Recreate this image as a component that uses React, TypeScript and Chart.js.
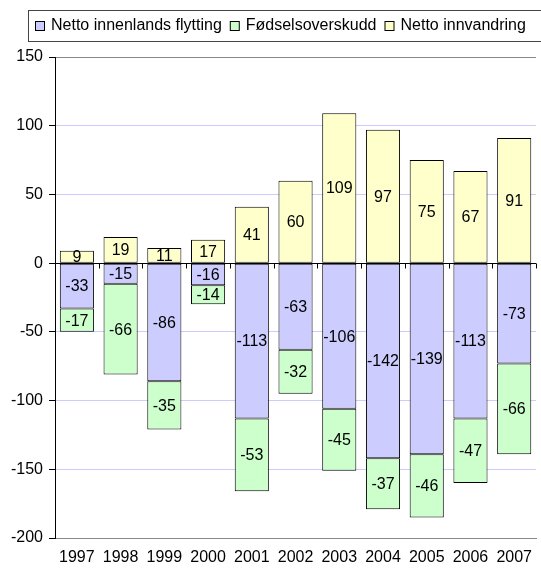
import { useEffect, useRef } from "react";
import { Chart, registerables } from "chart.js";
Chart.register(...registerables);

const years = ["1997", "1998", "1999", "2000", "2001", "2002", "2003", "2004", "2005", "2006", "2007"];
const nettoInnenlands = [-33, -15, -86, -16, -113, -63, -106, -142, -139, -113, -73];
const fodselsoverskudd = [-17, -66, -35, -14, -53, -32, -45, -37, -46, -47, -66];
const nettoInnvandring = [9, 19, 11, 17, 41, 60, 109, 97, 75, 67, 91];
const seriesNames = ["Netto innenlands flytting", "Fødselsoverskudd", "Netto innvandring"];
const seriesColors = ["#ccccff", "#ccffcc", "#ffffcc"];
const yMin = -200;
const yMax = 150;
const yStep = 50;

const FONT = '"Liberation Sans", Arial, sans-serif';

const overlay = {
  id: "overlay",
  afterDatasetsDraw(chart: any) {
    const ctx = chart.ctx;
    const y = chart.scales.y;
    const area = chart.chartArea;
    ctx.save();
    const y0 = Math.round(y.getPixelForValue(0)) + 0.5;
    ctx.strokeStyle = "#000";
    ctx.lineWidth = 1;
    ctx.beginPath();
    ctx.moveTo(area.left, y0);
    ctx.lineTo(area.right, y0);
    const n = years.length;
    const w = (area.right - area.left) / n;
    for (let i = 1; i <= n; i++) {
      const xx = Math.round(area.left + i * w) + 0.5;
      ctx.moveTo(xx, y0);
      ctx.lineTo(xx, y0 + 5);
    }
    ctx.stroke();

    ctx.font = "16px " + FONT;
    ctx.fillStyle = "#000";
    ctx.textAlign = "center";
    ctx.textBaseline = "middle";
    chart.data.datasets.forEach((ds: any, di: number) => {
      const meta = chart.getDatasetMeta(di);
      meta.data.forEach((bar: any, i: number) => {
        const p = bar.getProps(["x", "y", "base"], true);
        ctx.fillText(String(ds.data[i]), p.x, (p.y + p.base) / 2 + 1);
      });
    });

    // legend
    ctx.strokeStyle = "#444";
    ctx.strokeRect(28.5, 10.5, 520, 31);
    ctx.textAlign = "left";
    let lx = 35;
    const ly = 26;
    seriesNames.forEach((name, i) => {
      ctx.fillStyle = seriesColors[i];
      ctx.fillRect(lx + 0.5, ly - 4.5, 9, 9);
      ctx.strokeStyle = "#000";
      ctx.strokeRect(lx + 0.5, ly - 4.5, 9, 9);
      ctx.fillStyle = "#000";
      ctx.fillText(name, lx + 16, ly);
      lx += 16 + ctx.measureText(name).width + 8;
    });
    ctx.restore();
  },
};

export default function App() {
  const ref = useRef<HTMLCanvasElement>(null);
  useEffect(() => {
    const chart = new Chart(ref.current!, {
      type: "bar",
      data: {
        labels: years,
        datasets: [nettoInnenlands, fodselsoverskudd, nettoInnvandring].map((d, i) => ({
          label: seriesNames[i],
          data: d,
          backgroundColor: seriesColors[i],
          borderColor: "#000",
          borderWidth: 1,
          borderSkipped: false,
          barPercentage: 0.78,
          categoryPercentage: 1,
        })),
      },
      options: {
        animation: false,
        responsive: false,
        maintainAspectRatio: false,
        layout: { padding: { top: 57, left: 0, right: 0, bottom: 0 } },
        plugins: { legend: { display: false }, tooltip: { enabled: false } },
        scales: {
          x: {
            stacked: true,
            grid: { display: false, drawTicks: false },
            border: { display: true, color: "#888" },
            ticks: { color: "#000", font: { size: 16, family: FONT }, padding: 10, maxRotation: 0, autoSkip: false },
            afterFit: (s: any) => { s.height = 31; },
          },
          y: {
            stacked: true,
            min: yMin,
            max: yMax,
            grid: {
              color: (c: any) => {
                const v = c.tick?.value;
                if (v === yMax || v === yMin) return "#888";
                if (v === 0) return "#000";
                return "#ccccff";
              },
              tickColor: "#000",
              tickLength: 6,
            },
            border: { display: true, color: "#000" },
            ticks: { stepSize: yStep, color: "#000", font: { size: 16, family: FONT }, padding: 6 },
            afterFit: (s: any) => { s.width = 55; },
          },
        },
      },
      plugins: [overlay],
    });
    return () => chart.destroy();
  }, []);
  return (
    <div style={{ position: "fixed", left: 0, top: 0, width: 541, height: 569, overflow: "hidden", background: "#fff" }}>
      <canvas ref={ref} width={542} height={569} style={{ width: 542, height: 569, display: "block" }} />
    </div>
  );
}
